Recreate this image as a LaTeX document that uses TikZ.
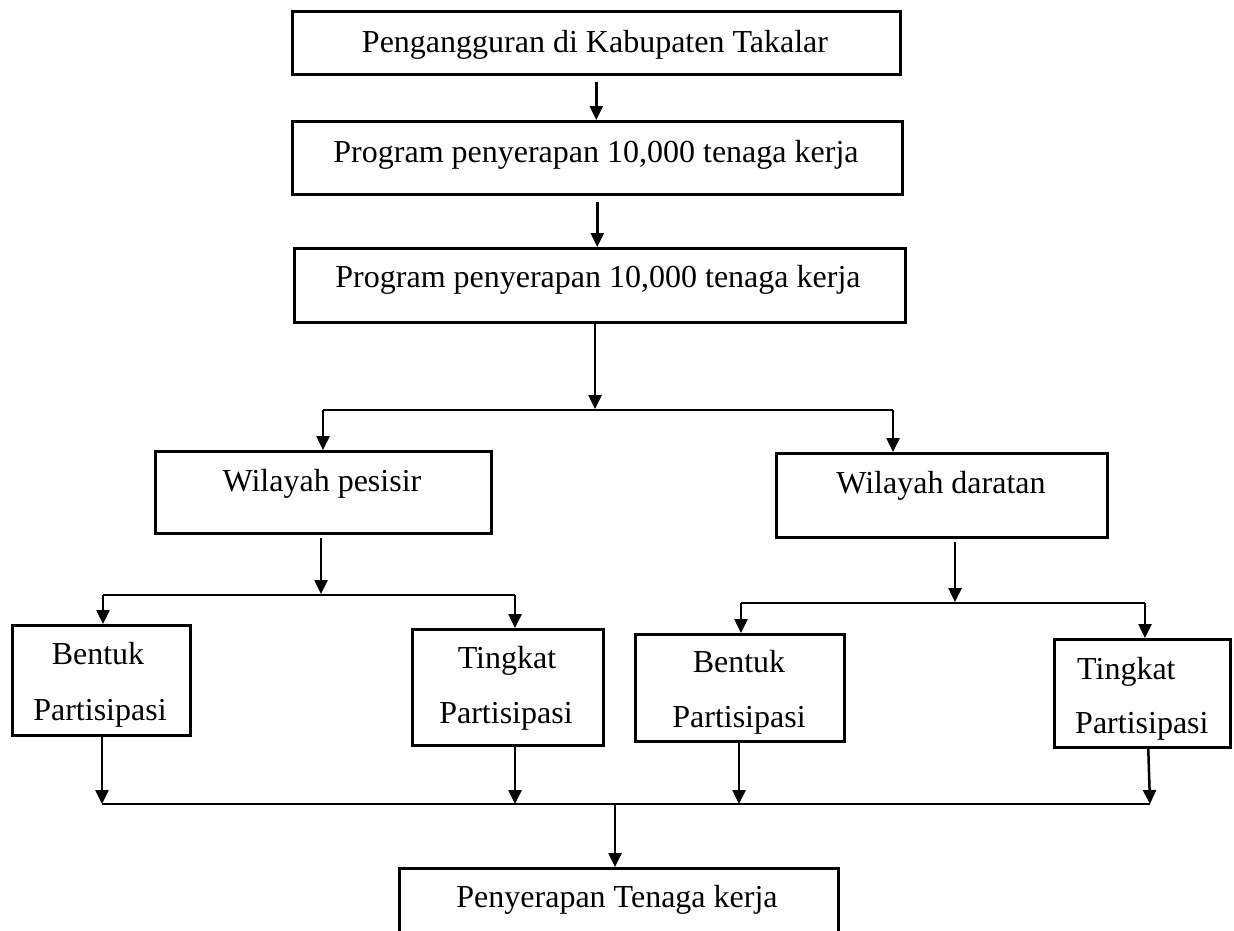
\documentclass[tikz,border=0pt]{standalone}
\usepackage{fontspec}
\setmainfont{Liberation Serif}
\usetikzlibrary{arrows.meta,calc}
\begin{document}
\begin{tikzpicture}[x=1pt,y=-1pt,
  box/.style={draw, line width=2.5pt, inner sep=0pt, anchor=north west},
  lbl/.style={inner sep=0pt, anchor=base, font=\fontsize{32}{38}\selectfont},
  lbll/.style={inner sep=0pt, anchor=base west, font=\fontsize{32}{38}\selectfont},
  arr/.style={line width=2.5pt, -{Triangle[width=13pt,length=14pt]}},
  branch/.style={line width=1.4pt}]
\clip (0,0) rectangle (1234,930);
\fill[white] (0,0) rectangle (1234,930);

% boxes
\node[box, minimum width=608pt, minimum height=63pt] (b1) at (291,10) {};
\node[box, minimum width=610pt, minimum height=73pt] (b2) at (291,120) {};
\node[box, minimum width=611pt, minimum height=74pt] (b3) at (293,247) {};
\node[box, minimum width=336pt, minimum height=82pt] (pes) at (154,450) {};
\node[box, minimum width=331pt, minimum height=84pt] (dar) at (775,452) {};
\node[box, minimum width=178pt, minimum height=110pt] (bl) at (11,624) {};
\node[box, minimum width=191pt, minimum height=116pt] (tl) at (411,628) {};
\node[box, minimum width=209pt, minimum height=107pt] (br) at (634,633) {};
\node[box, minimum width=176pt, minimum height=108pt] (tr) at (1053,638) {};
\node[box, minimum width=439pt, minimum height=100pt] (bot) at (398,867) {};

% texts
\node[lbl] (t1) at (595,52) {Pengangguran di Kabupaten Takalar};
\node[lbl] (t2) at (596,162) {Program penyerapan 10,000 tenaga kerja};
\node[lbl] (t3) at (598,287) {Program penyerapan 10,000 tenaga kerja};
\node[lbl] (tpes) at (322,491) {Wilayah pesisir};
\node[lbl] (tdar) at (941,493) {Wilayah daratan};
\node[lbl] (tbl1) at (98,664) {Bentuk};
\node[lbl] (tbl2) at (100,720) {Partisipasi};
\node[lbl] (ttl1) at (507,668) {Tingkat};
\node[lbl] (ttl2) at (506,723) {Partisipasi};
\node[lbl] (tbr1) at (739,672) {Bentuk};
\node[lbl] (tbr2) at (739,727) {Partisipasi};
\node[lbll] (ttr1) at (1077,679) {Tingkat};
\node[lbll] (ttr2) at (1075,733) {Partisipasi};
\node[lbl] (tbot) at (617,907) {Penyerapan Tenaga kerja};

% top chain
\draw[arr] ($(b1.south)+(0,6)$) -- (b1.south |- b2.north);
\draw[arr] ($(b2.south)+(0,6)$) -- (b2.south |- b3.north);

% first split
\coordinate (s1) at (595,409);
\coordinate (s1L) at (323,410);
\coordinate (s1R) at (893,410);
\draw[arr] (s1 |- b3.south) -- (s1);
\draw[branch] (s1L) -- (s1R);
\draw[arr] (s1L) -- (s1L |- pes.north);
\draw[arr] (s1R) -- (s1R |- dar.north);

% pesisir split
\coordinate (s2) at (321,594);
\coordinate (s2L) at (103,595);
\coordinate (s2R) at (515,595);
\draw[arr] ($(s2 |- pes.south)+(0,3)$) -- (s2);
\draw[branch] (s2L) -- (s2R);
\draw[arr] (s2L) -- (s2L |- bl.north);
\draw[arr] (s2R) -- (s2R |- tl.north);

% daratan split
\coordinate (s3) at (955,602);
\coordinate (s3L) at (741,603);
\coordinate (s3R) at (1145,603);
\draw[arr] ($(s3 |- dar.south)+(0,3)$) -- (s3);
\draw[branch] (s3L) -- (s3R);
\draw[arr] (s3L) -- (s3L |- br.north);
\draw[arr] (s3R) -- (s3R |- tr.north);

% merge
\coordinate (e1) at (102,804);
\coordinate (e2) at (515,804);
\coordinate (e3) at (739,804);
\coordinate (e4) at (1150,804);
\coordinate (e0) at (615,804);
\draw[arr] (e1 |- bl.south) -- (e1);
\draw[arr] (e2 |- tl.south) -- (e2);
\draw[arr] (e3 |- br.south) -- (e3);
\draw[arr] ($(tr.south)+(6,0)$) -- (e4);
\draw[branch] (e1) -- (e4);
\draw[arr] (e0) -- (e0 |- bot.north);
\end{tikzpicture}
\end{document}
